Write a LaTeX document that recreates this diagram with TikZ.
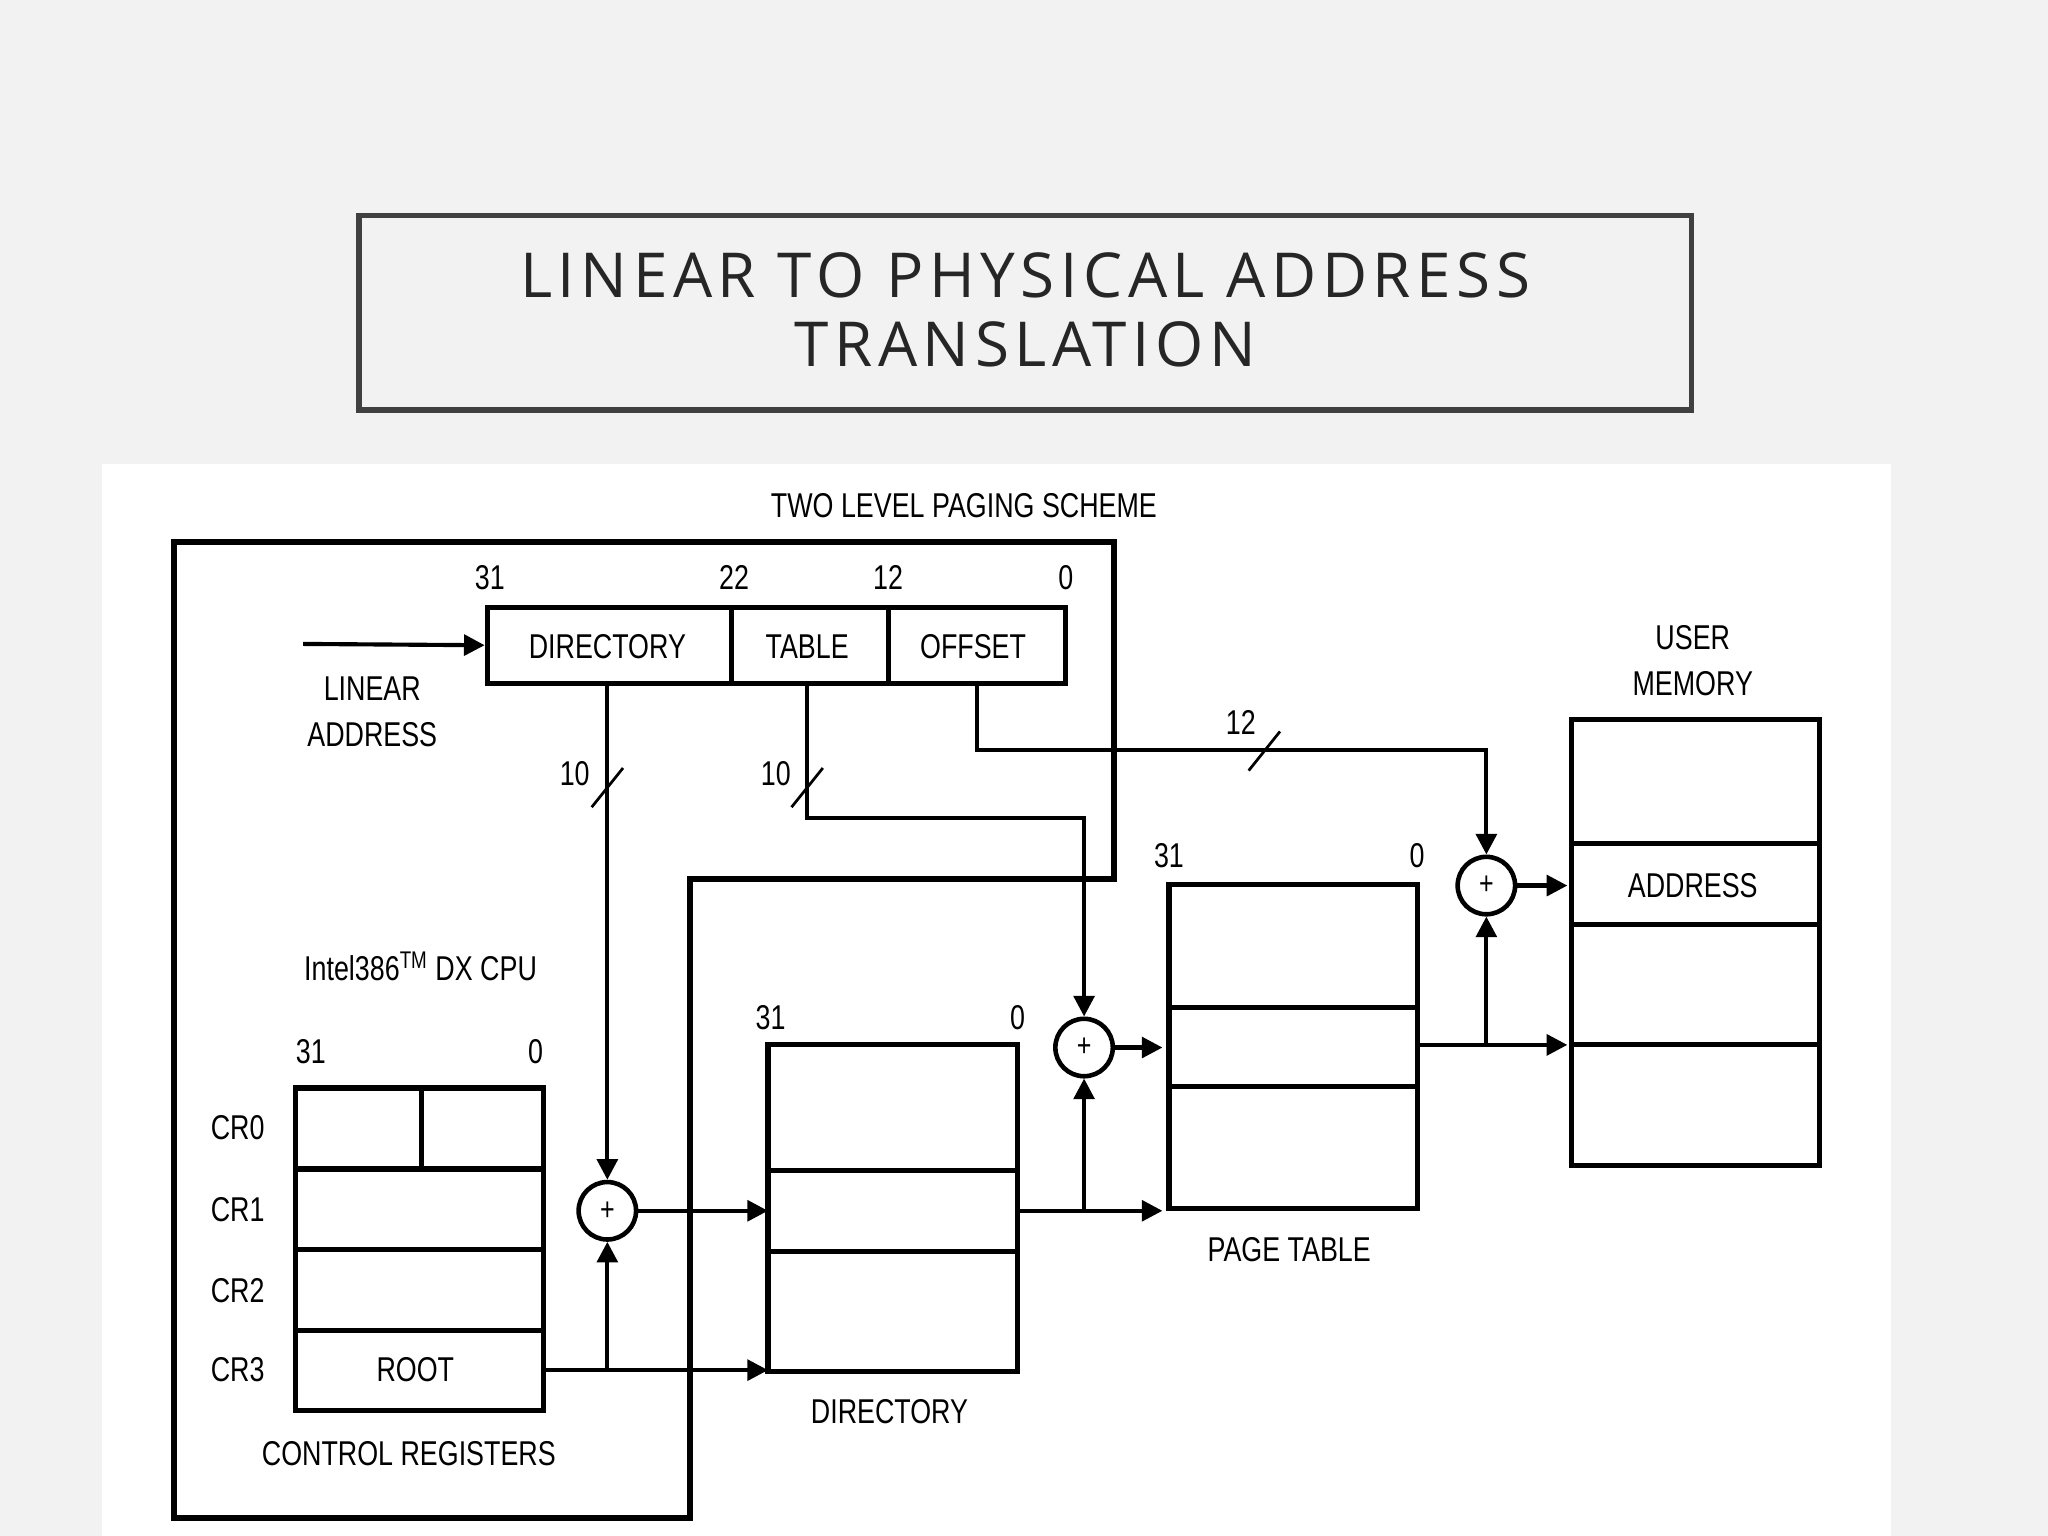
\documentclass[tikz,border=0pt]{standalone}
\usepackage{fontspec}
\setmainfont{Liberation Sans}
\newfontfamily\titlefont{Open Sans}[LetterSpace=9]
\newfontfamily\diagfont{Liberation Sans}[FakeStretch=0.78]
\usetikzlibrary{arrows.meta,fit}
\definecolor{bgray}{HTML}{F2F2F2}
\definecolor{tgray}{HTML}{404040}
\tikzset{
  lab/.style={font=\diagfont\fontsize{15}{18}\selectfont, align=center, inner sep=0pt},
  box/.style={draw=black, line width=2.2pt, inner sep=0pt},
  wire/.style={draw=black, line width=1.8pt},
  arr/.style={wire, -{Triangle[length=9pt,width=9pt]}},
  adder/.style={shape=circle, draw=black, line width=2pt, minimum size=0.88cm, inner sep=0pt, font=\diagfont\fontsize{14}{14}\selectfont},
}
\begin{document}
\begin{tikzpicture}[x=0.02cm,y=-0.02cm]
        \useasboundingbox (0,0) rectangle (1568,1176);
        \fill[bgray] (0,0) rectangle (1568,1176);
        \fill[white] (78,355) rectangle (1448,1176);

        % title
        \draw[tgray, line width=2.5pt] (275,165) rectangle (1295,314);
        \node[font=\titlefont\fontsize{27}{30}\selectfont, text=black!85, align=center] (title) at (785,237) {LINEAR TO PHYSICAL ADDRESS\\TRANSLATION};

        \node[lab] (scheme) at (738,387) {TWO LEVEL PAGING SCHEME};
        \draw[line width=2.6pt] (133,415) -- (853,415) -- (853,673) -- (528,673) -- (528,1162) -- (133,1162) -- cycle;

        % linear address
        \node[box, fit={(373,465) (816,523)}] (linear) {};
        \draw[box] (560,465) -- (560,523);
        \draw[box] (680,465) -- (680,523);
        \node[lab] at (465,495) {DIRECTORY};
        \node[lab] at (618,495) {TABLE};
        \node[lab] at (745,495) {OFFSET};
        \node[lab] at (375,442) {31};
        \node[lab] at (562,442) {22};
        \node[lab] at (680,442) {12};
        \node[lab] at (816,442) {0};
        \coordinate (lin_in) at (232,493);
        \draw[arr] (lin_in) -- (linear.west);
        \node[lab] at (285,545) {LINEAR\\[2pt]ADDRESS};

        % control registers
        \node[lab] at (322,740) {Intel386\textsuperscript{TM} DX CPU};
        \node[box, fit={(226,833) (416,1080)}] (ctrl) {};
        \foreach \y in {895,957,1019} \draw[box] (226,\y) -- (416,\y);
        \draw[box] (323,833) -- (323,895);
        \node[lab] at (318,1049) {ROOT};
        \foreach \n/\y in {0/863,1/926,2/988,3/1049} \node[lab] at (182,\y) {CR\n};
        \node[lab] at (238,805) {31};
        \node[lab] at (410,805) {0};
        \node[lab] at (313,1113) {CONTROL REGISTERS};

        % directory
        \node[box, fit={(588,800) (779,1050)}] (dir) {};
        \foreach \y in {896,958} \draw[box] (588,\y) -- (779,\y);
        \node[lab] at (590,779) {31};
        \node[lab] at (779,779) {0};
        \node[lab] at (681,1081) {DIRECTORY};

        % page table
        \node[box, fit={(895,677) (1085,925)}] (ptab) {};
        \foreach \y in {771,832} \draw[box] (895,\y) -- (1085,\y);
        \node[lab] at (895,655) {31};
        \node[lab] at (1085,655) {0};
        \node[lab] at (987,957) {PAGE TABLE};

        % user memory
        \node[box, fit={(1203,551) (1393,892)}] (umem) {};
        \foreach \y in {646,708,800} \draw[box] (1203,\y) -- (1393,\y);
        \node[lab] at (1296,678) {ADDRESS};
        \node[lab] at (1296,506) {USER\\[2pt]MEMORY};

        % adders
        \node[adder] (add1) at (465,927) {+};
        \node[adder] (add2) at (830,802) {+};
        \node[adder] (add3) at (1138,678) {+};

        % field wires
        \coordinate (dir_f) at (465,523);
        \coordinate (tab_f) at (618,523);
        \coordinate (off_f) at (748,523);
        \draw[arr] (dir_f) -- (add1.north);
        \draw[arr] (tab_f) -- (618,626) -- (830,626) -- (add2.north);
        \draw[arr] (off_f) -- (748,574) -- (1138,574) -- (add3.north);
        \draw[wire, line width=1.2pt] (453,618) -- (477,588);
        \draw[wire, line width=1.2pt] (606,618) -- (630,588);
        \draw[wire, line width=1.2pt] (956,590) -- (980,560);
        \node[lab] at (440,592) {10};
        \node[lab] at (594,592) {10};
        \node[lab] at (950,553) {12};

        % data path
        \coordinate (root_o) at (416,1049);
        \coordinate (dir_i) at (588,1049);
        \draw[arr] (root_o) -- (dir_i);
        \draw[arr] (465,1049) -- (add1.south);
        \draw[arr] (add1.east) -- (588,927);

        \coordinate (dir_o) at (779,927);
        \draw[arr] (dir_o) -- (890,927);
        \draw[arr] (830,927) -- (add2.south);
        \draw[arr] (add2.east) -- (890,802);

        \coordinate (ptab_o) at (1085,800);
        \draw[arr] (ptab_o) -- (1200,800);
        \draw[arr] (1138,800) -- (add3.south);
        \draw[arr] (add3.east) -- (1200,678);
\end{tikzpicture}
\end{document}
